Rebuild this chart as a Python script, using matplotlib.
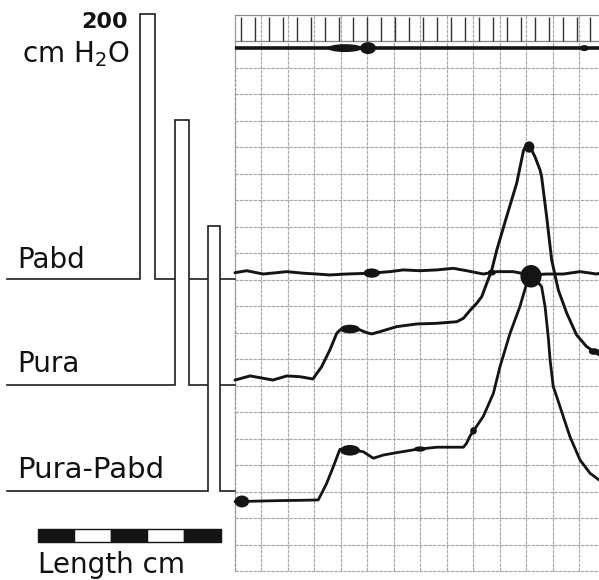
import numpy as np
import matplotlib
matplotlib.use("Agg")
import matplotlib.pyplot as plt
from matplotlib.patches import Ellipse, Rectangle

# ---------------------------------------------------------------
# Pressure-flow recording: time in chart-paper divisions,
# pressures in cmH2O relative to each channel's pen zero.
# ---------------------------------------------------------------
pabd_t = [0, 0.44, 1.06, 1.57, 1.95, 2.58, 3.08, 3.58, 4.21, 5.09, 5.85, 6.35,
          6.98, 7.61, 8.24, 8.74, 9.37, 9.88, 10.50, 11.13, 11.76, 12.39, 13.02,
          13.65, 13.74]
pabd_v = [4.5, 6.0, 3.5, 4.5, 5.3, 4.1, 3.5, 2.8, 3.5, 4.1, 5.3, 6.6,
          6.0, 6.6, 7.8, 6.0, 3.5, 5.3, 5.3, 2.8, 3.5, 3.5, 5.3,
          3.5, 4.0]

pura_t = [0, 0.57, 1.07, 1.43, 1.96, 2.45, 2.94, 3.27, 3.58, 3.84, 3.96, 4.34,
          4.72, 4.97, 5.16, 5.47, 6.10, 6.86, 7.61, 8.37, 8.62, 8.87, 9.12, 9.31,
          9.50, 9.69, 9.88, 10.25, 10.63, 10.89, 11.02, 11.17, 11.32, 11.51, 11.57,
          11.76, 11.95, 12.20, 12.52, 12.89, 13.27, 13.65, 13.74]
pura_v = [3.5, 6.6, 4.8, 3.5, 6.6, 6.0, 4.3, 13.6, 26.2, 38.8, 41.3, 42.0,
          41.3, 39.2, 38.3, 40.0, 43.8, 45.8, 46.3, 47.5, 50.1, 56.1, 61.4, 66.4,
          76.5, 86.6, 101.7, 126.8, 152.0, 177.0, 180.9, 178.0, 172.0, 162.0, 157.0,
          126.8, 94.1, 71.5, 53.9, 37.5, 28.7, 23.7, 22.5]

pdet_t = [0, 0.57, 1.70, 2.45, 3.14, 3.27, 3.46, 3.71, 3.90, 3.96, 4.15, 4.59,
          4.84, 5.03, 5.22, 5.60, 6.10, 6.86, 7.61, 8.62, 8.74, 8.87, 9.37, 9.75,
          10.00, 10.38, 10.75, 11.01, 11.20, 11.57, 11.70, 11.82, 11.89, 12.01,
          12.14, 12.39, 12.64, 13.02, 13.40, 13.65, 13.74]
pdet_v = [-8.3, -8.0, -7.5, -7.3, -7.0, -2.0, 5.6, 18.1, 28.2, 31.2, 30.7, 30.2,
          29.4, 26.9, 24.5, 26.9, 28.7, 31.2, 32.8, 32.8, 35.8, 41.3, 56.1, 73.4,
          93.6, 118.8, 138.9, 156.5, 162.8, 154.0, 138.9, 116.3, 98.8, 78.5,
          71.0, 55.8, 40.7, 23.2, 13.1, 9.4, 8.0]

channel_names = ["Pabd", "Pura", "Pura-Pabd"]
channel_zero = [221, 141, 61]          # pen zero of each channel on the paper
cal_pressure = 200                     # calibration step, cmH2O
cal_start = [-3.585, -2.253, -1.013]   # time of each calibration step
cal_width = [0.566, 0.528, 0.447]

marker_level = 395                     # event-marker pen
tick_first, tick_step, n_ticks = 0.215, 0.528, 26

# ink blots along the pens: (pen, time, width, height)
blots = [("marker", 4.15, 1.30, 6.0), ("marker", 5.02, 0.60, 9.0), ("marker", 13.18, 0.35, 4.5),
         ("Pabd", 5.16, 0.62, 7.0), ("Pabd", 9.69, 0.30, 4.5),
         ("Pura", 4.34, 0.75, 6.5), ("Pura", 11.10, 0.40, 8.5), ("Pura", 13.55, 0.40, 5.0),
         ("Pura-Pabd", 0.26, 0.55, 9.0), ("Pura-Pabd", 4.34, 0.75, 8.0),
         ("Pura-Pabd", 6.98, 0.45, 4.0), ("Pura-Pabd", 9.00, 0.25, 5.5),
         ("Pura-Pabd", 11.17, 0.80, 17.0)]

ink = "#141414"
paper_line = "#a8a8a8"
paper_dash = (0, (3, 0.8))

fig = plt.figure(figsize=(5.99, 5.80), dpi=100)
ax = fig.add_axes([0, 0, 1, 1])
ax.set_xlim(-8.868, 13.736)
ax.set_ylim(-6.415, 431.3)
ax.axis("off")

# chart paper grid
x_right = 13.736
paper_top = 420
for gx in range(0, 14):
    ax.plot([gx, gx], [0, paper_top], color=paper_line, lw=0.85,
            ls=paper_dash, zorder=1)
for gy in range(0, 401, 20):
    ax.plot([0, x_right], [gy, gy], color=paper_line, lw=0.85,
            ls=paper_dash, zorder=1)
ax.plot([0, x_right], [paper_top, paper_top], color="#8a8a8a", lw=0.9, zorder=1)
ax.plot([0, x_right], [400, 400], color="#8a8a8a", lw=0.9, zorder=1)
ax.plot([0, 0], [0, paper_top], color="#999999", lw=0.9, ls=paper_dash, zorder=1)

# one-second time ticks along the top
tick_x = tick_first + tick_step * np.arange(n_ticks)
ax.vlines(tick_x, 400, 418.5, color="#333333", lw=1.0, zorder=2)

# event marker pen
ax.plot([0, x_right], [marker_level, marker_level], color=ink, lw=2.6,
        solid_capstyle="butt", zorder=5)

# pressure traces
traces = {
    "Pabd": (np.array(pabd_t), np.array(pabd_v) + channel_zero[0]),
    "Pura": (np.array(pura_t), np.array(pura_v) + channel_zero[1]),
    "Pura-Pabd": (np.array(pdet_t), np.array(pdet_v) + channel_zero[2]),
}
widths = {"Pabd": 2.1, "Pura": 2.1, "Pura-Pabd": 2.0}
for name, (t, v) in traces.items():
    ax.plot(t, v, color=ink, lw=widths[name], solid_joinstyle="round",
            solid_capstyle="round", zorder=5)

for pen, t0, w, h in blots:
    if pen == "marker":
        y0 = marker_level
    else:
        t, v = traces[pen]
        y0 = np.interp(t0, t, v)
    ax.add_patch(Ellipse((t0, y0), w, h, facecolor=ink, edgecolor="none", zorder=6))

# calibration steps on the left
x_left = -8.6
for i, name in enumerate(channel_names):
    z0 = channel_zero[i]
    s, w = cal_start[i], cal_width[i]
    ax.add_patch(Rectangle((s, z0), w, cal_pressure, facecolor="white",
                           edgecolor="none", zorder=3 + 2 * i))
    ax.plot([x_left, s, s, s + w, s + w, 0],
            [z0, z0, z0 + cal_pressure, z0 + cal_pressure, z0, z0],
            color="#1e1e1e", lw=1.2, solid_joinstyle="miter", zorder=4 + 2 * i)

label_font = "DejaVu Sans"
label_pos = [228.8, 150.9, 70.3]
label_size = [20, 20, 21]
for name, y, fs in zip(channel_names, label_pos, label_size):
    ax.text(-8.23, y, name, fontsize=fs, family=label_font, color="#111111",
            ha="left", va="baseline")

ax.text(-4.04, 409.8, "200", fontsize=16, fontweight="bold", family=label_font,
        color="#111111", ha="right", va="baseline")
ax.text(-3.96, 384.5, r"cm H$_2$O", fontsize=20, family=label_font,
        color="#111111", ha="right", va="baseline")

# length scale bar
seg = 1.381
bar_x0 = -7.445
for k in range(5):
    ax.add_patch(Rectangle((bar_x0 + k * seg, 22.3), seg, 9.4,
                           facecolor=ink if k % 2 == 0 else "white",
                           edgecolor=ink, lw=1.0, zorder=3))
ax.text(-7.43, -1.1, "Length cm", fontsize=20, family=label_font,
        color="#111111", ha="left", va="baseline")

fig.savefig("out.png", dpi=100)
